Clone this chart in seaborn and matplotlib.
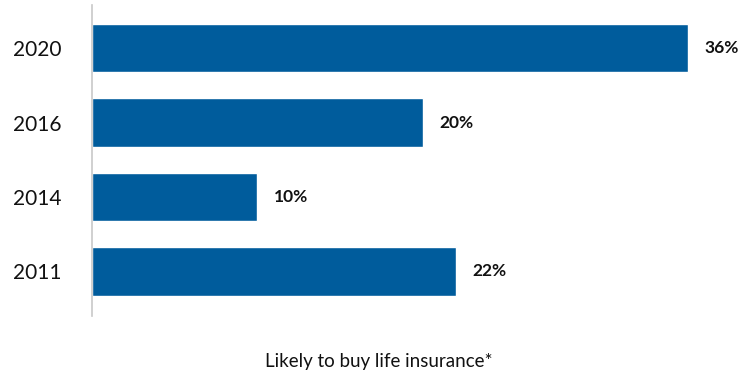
import matplotlib
matplotlib.use("Agg")
import matplotlib.pyplot as plt
import seaborn as sns
import pandas as pd

# Chart data
years = ["2020", "2016", "2014", "2011"]
likely_pct = [36, 20, 10, 22]
axis_label = "Likely to buy life insurance*"

df = pd.DataFrame({"year": years, "pct": likely_pct})

sns.set_style("white")
plt.rcParams["font.family"] = ["Lato", "DejaVu Sans"]

fig = plt.figure(figsize=(7.4, 3.72), dpi=100)
ax = fig.add_axes([0.124, 0.1505, 0.846, 0.836])

sns.barplot(data=df, y="year", x="pct", orient="h", color="#005c9c",
            saturation=1, width=0.65, ax=ax)

ax.set_xlim(0, 37.8)
ax.set_ylim(3.6, -0.58)

for i, v in enumerate(likely_pct):
    ax.text(v + 1.0, i, f"{v}%", va="center", ha="left",
            fontsize=12.5, fontweight="bold", color="#111111")

for side in ["top", "right", "bottom"]:
    ax.spines[side].set_visible(False)
ax.spines["left"].set_color("#c8c8c8")
ax.spines["left"].set_linewidth(1.2)

ax.set_xticks([])
ax.set_ylabel("")
ax.set_xlabel("")
ax.tick_params(axis="y", length=0, pad=21.5, labelsize=15, labelcolor="#111111")

fig.text(0.512, 0.027, axis_label, ha="center", va="center",
         fontsize=13.5, color="#111111")

fig.savefig("out.png", dpi=100)
